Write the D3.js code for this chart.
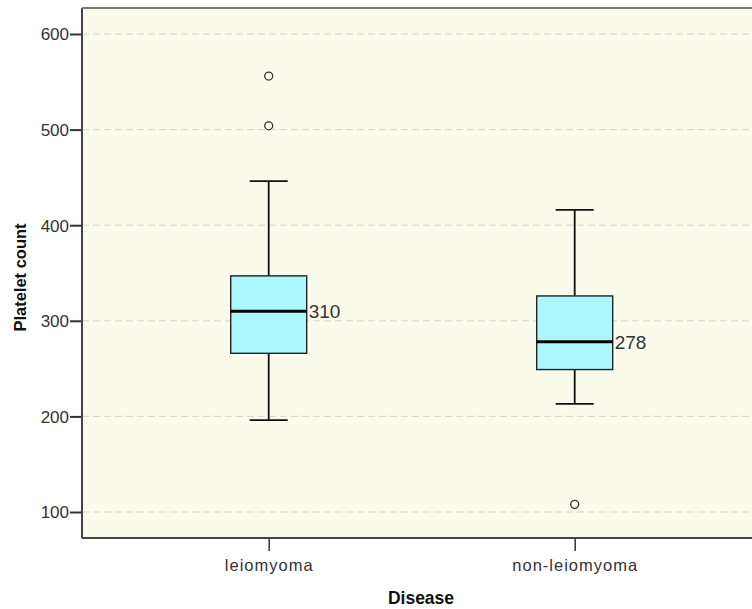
<!DOCTYPE html>
<html><head><meta charset="utf-8">
<script src="https://cdn.jsdelivr.net/npm/d3@7"></script>
<style>body{margin:0;background:#fff}svg{display:block}</style>
</head><body>
<svg id="c" width="752" height="609"></svg>
<script>
const categories = ["leiomyoma", "non-leiomyoma"];
const whiskerLow = [196, 213];
const q1 = [266, 249];
const medians = [310, 278];
const q3 = [347, 326];
const whiskerHigh = [446, 416];
const outliers = [[556, 504], [108]];
const yTicks = [100, 200, 300, 400, 500, 600];

const svg = d3.select("#c");
const L = 82, T = 8, R = 761, B = 538;
const y = d3.scaleLinear().domain([100, 600]).range([512, 34]);
const x = d3.scalePoint().domain(categories).range([268.7, 574.7]);
const bw = 76, cw = 38;

svg.append("rect").attr("x", L).attr("y", T).attr("width", R - L).attr("height", B - T).attr("fill", "#fafbeb");

// grid
svg.append("g").selectAll("line").data(yTicks).join("line")
  .attr("x1", L).attr("x2", R).attr("y1", d => y(d)).attr("y2", d => y(d))
  .attr("stroke", "#d6d6cc").attr("stroke-width", 1).attr("stroke-dasharray", "7,4");

const font = "Arial, 'Liberation Sans', sans-serif";

// boxes
const g = svg.append("g");
categories.forEach((c, i) => {
  const cx = x(c);
  const ws = 1.8;
  g.append("line").attr("x1", cx).attr("x2", cx).attr("y1", y(whiskerHigh[i])).attr("y2", y(q3[i])).attr("stroke", "#111").attr("stroke-width", ws);
  g.append("line").attr("x1", cx).attr("x2", cx).attr("y1", y(q1[i])).attr("y2", y(whiskerLow[i])).attr("stroke", "#111").attr("stroke-width", ws);
  g.append("line").attr("x1", cx - cw/2).attr("x2", cx + cw/2).attr("y1", y(whiskerHigh[i])).attr("y2", y(whiskerHigh[i])).attr("stroke", "#111").attr("stroke-width", ws);
  g.append("line").attr("x1", cx - cw/2).attr("x2", cx + cw/2).attr("y1", y(whiskerLow[i])).attr("y2", y(whiskerLow[i])).attr("stroke", "#111").attr("stroke-width", ws);
  g.append("rect").attr("x", cx - bw/2).attr("y", y(q3[i])).attr("width", bw).attr("height", y(q1[i]) - y(q3[i]))
    .attr("fill", "#aaf8fd").attr("stroke", "#222").attr("stroke-width", 1.4);
  g.append("line").attr("x1", cx - bw/2).attr("x2", cx + bw/2).attr("y1", y(medians[i])).attr("y2", y(medians[i])).attr("stroke", "#000").attr("stroke-width", 3);
  g.append("text").attr("x", cx + bw/2 + 2).attr("y", y(medians[i]) + 7).text(medians[i])
    .attr("font-family", font).attr("font-size", 19).attr("fill", "#333");
  outliers[i].forEach(v => {
    g.append("circle").attr("cx", cx).attr("cy", y(v)).attr("r", 4).attr("fill", "none").attr("stroke", "#333").attr("stroke-width", 1.3);
  });
});

// axes
const ya = svg.append("g").attr("transform", `translate(${L},0)`).call(d3.axisLeft(y).tickValues(yTicks).tickSize(12).tickSizeOuter(0));
ya.select(".domain").remove();
ya.selectAll("line").attr("stroke", "#333").attr("stroke-width", 2);
ya.selectAll("text").attr("font-family", font).attr("font-size", 17).attr("fill", "#333").attr("dy", "0.35em").attr("x", -13);

const xa = svg.append("g").attr("transform", `translate(0,${B})`).call(d3.axisBottom(x).tickSize(13).tickSizeOuter(0));
xa.select(".domain").remove();
xa.selectAll("line").attr("stroke", "#333").attr("stroke-width", 1.5);
xa.selectAll("text").attr("font-family", font).attr("font-size", 16.5).attr("letter-spacing", 1).attr("fill", "#333").attr("y", 21);

svg.append("line").attr("x1", L).attr("x2", L).attr("y1", T).attr("y2", B).attr("stroke", "#444").attr("stroke-width", 2);
svg.append("line").attr("x1", L).attr("x2", R).attr("y1", B).attr("y2", B).attr("stroke", "#444").attr("stroke-width", 2);
svg.append("line").attr("x1", L).attr("x2", R).attr("y1", T).attr("y2", T).attr("stroke", "#777").attr("stroke-width", 2);

svg.append("text").attr("x", 421).attr("y", 604).attr("text-anchor", "middle")
  .attr("font-family", font).attr("font-size", 17.5).attr("font-weight", "bold").attr("fill", "#111").text("Disease");
svg.append("text").attr("transform", `translate(26,277.5) rotate(-90)`).attr("text-anchor", "middle")
  .attr("font-family", font).attr("font-size", 16.5).attr("font-weight", "bold").attr("fill", "#111").text("Platelet count");
</script>
</body></html>
